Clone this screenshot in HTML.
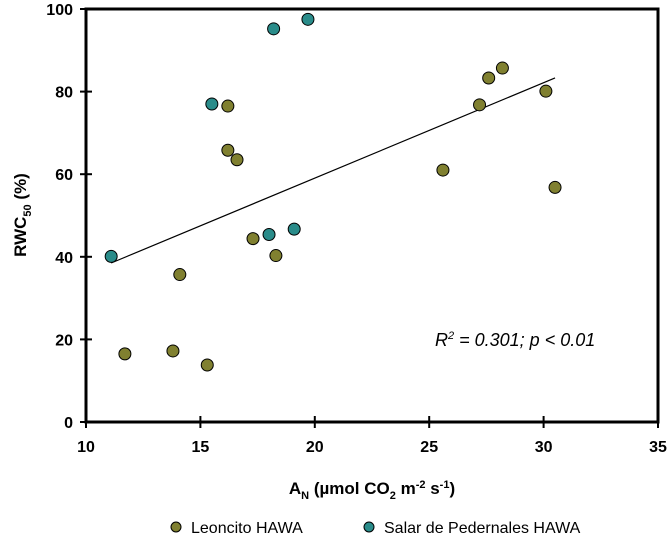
<!DOCTYPE html>
<html><head><meta charset="utf-8"><style>
body{margin:0;background:#fff;}
svg{display:block;font-family:"Liberation Sans",Arial,sans-serif;}
</style></head><body>
<svg id="chart" width="669" height="544"></svg>
<script>
const leoX=[11.7,13.8,14.1,15.3,16.2,16.2,16.6,17.3,18.3,25.6,27.2,27.6,28.2,30.1,30.5];
const leoY=[16.5,17.2,35.7,13.8,76.5,65.8,63.5,44.4,40.3,61.0,76.8,83.3,85.7,80.1,56.8];
const salX=[11.1,15.5,18.0,18.2,19.1,19.7];
const salY=[40.1,77.0,45.4,95.2,46.7,97.5];
const xTicks=[10,15,20,25,30,35];
const yTicks=[0,20,40,60,80,100];
const fitX=[11.1,30.5];
const fitY=[38.5,83.3];
const NS="http://www.w3.org/2000/svg";
const svg=document.getElementById('chart');
const sx=v=>86+(v-10)*(658-86)/25;
const sy=v=>422-v*(422-9)/100;
function mk(t,a){const e=document.createElementNS(NS,t);for(const k in a)e.setAttribute(k,a[k]);svg.appendChild(e);return e;}
// axes frame
let f=mk('rect',{x:86,y:9,width:572,height:413,fill:'none',stroke:'#000','stroke-width':3});


xTicks.forEach(t=>{
 let l=mk('line',{x1:sx(t),x2:sx(t),y1:416,y2:428,stroke:'#000','stroke-width':2});
 
 
 let tx=mk('text',{x:sx(t),y:452,'text-anchor':'middle','font-size':16,'font-weight':'bold'});
 tx.textContent=t;
 
 
});
yTicks.forEach(t=>{
 let l=mk('line',{x1:80,x2:92,y1:sy(t),y2:sy(t),stroke:'#000','stroke-width':2});
 
 
 let tx=mk('text',{x:73,y:sy(t)+6,'text-anchor':'end','font-size':16,'font-weight':'bold'});
 tx.textContent=t;
 
 
});
let fit=mk('line',{x1:sx(fitX[0]),y1:sy(fitY[0]),x2:sx(fitX[1]),y2:sy(fitY[1]),stroke:'#000','stroke-width':1.2});


leoX.forEach((x,i)=>{
 let c=mk('circle',{cx:sx(x),cy:sy(leoY[i]),r:6,fill:'#808030',stroke:'#000','stroke-width':1});
 
 
});
salX.forEach((x,i)=>{
 let c=mk('circle',{cx:sx(x),cy:sy(salY[i]),r:6,fill:'#2a8c8a',stroke:'#000','stroke-width':1});
 
 
});
</script>
<svg width="669" height="544" style="position:absolute;left:0;top:0;font-family:'Liberation Sans',Arial,sans-serif">
<text x="435" y="346" font-size="18" font-style="italic">R<tspan font-size="11" dy="-7">2</tspan><tspan dy="7"> = 0.301; p &lt; 0.01</tspan></text>
<text transform="translate(26,215) rotate(-90)" text-anchor="middle" font-size="17" font-weight="bold">RWC<tspan font-size="11" dy="5">50</tspan><tspan dy="-5"> (%)</tspan></text>
<text x="372" y="494" text-anchor="middle" font-size="17" font-weight="bold">A<tspan font-size="11" dy="5">N</tspan><tspan dy="-5"> (µmol CO</tspan><tspan font-size="11" dy="5">2</tspan><tspan dy="-5"> m</tspan><tspan font-size="11" dy="-6">-2</tspan><tspan dy="6"> s</tspan><tspan font-size="11" dy="-6">-1</tspan><tspan dy="6">)</tspan></text>
<g>
<circle cx="176" cy="527" r="5" fill="#808030" stroke="#000"/>
<text x="191" y="533" font-size="16">Leoncito HAWA</text>
<circle cx="369" cy="527" r="5" fill="#2a8c8a" stroke="#000"/>
<text x="384" y="533" font-size="16">Salar de Pedernales HAWA</text>
</g>
</svg>
</body></html>
